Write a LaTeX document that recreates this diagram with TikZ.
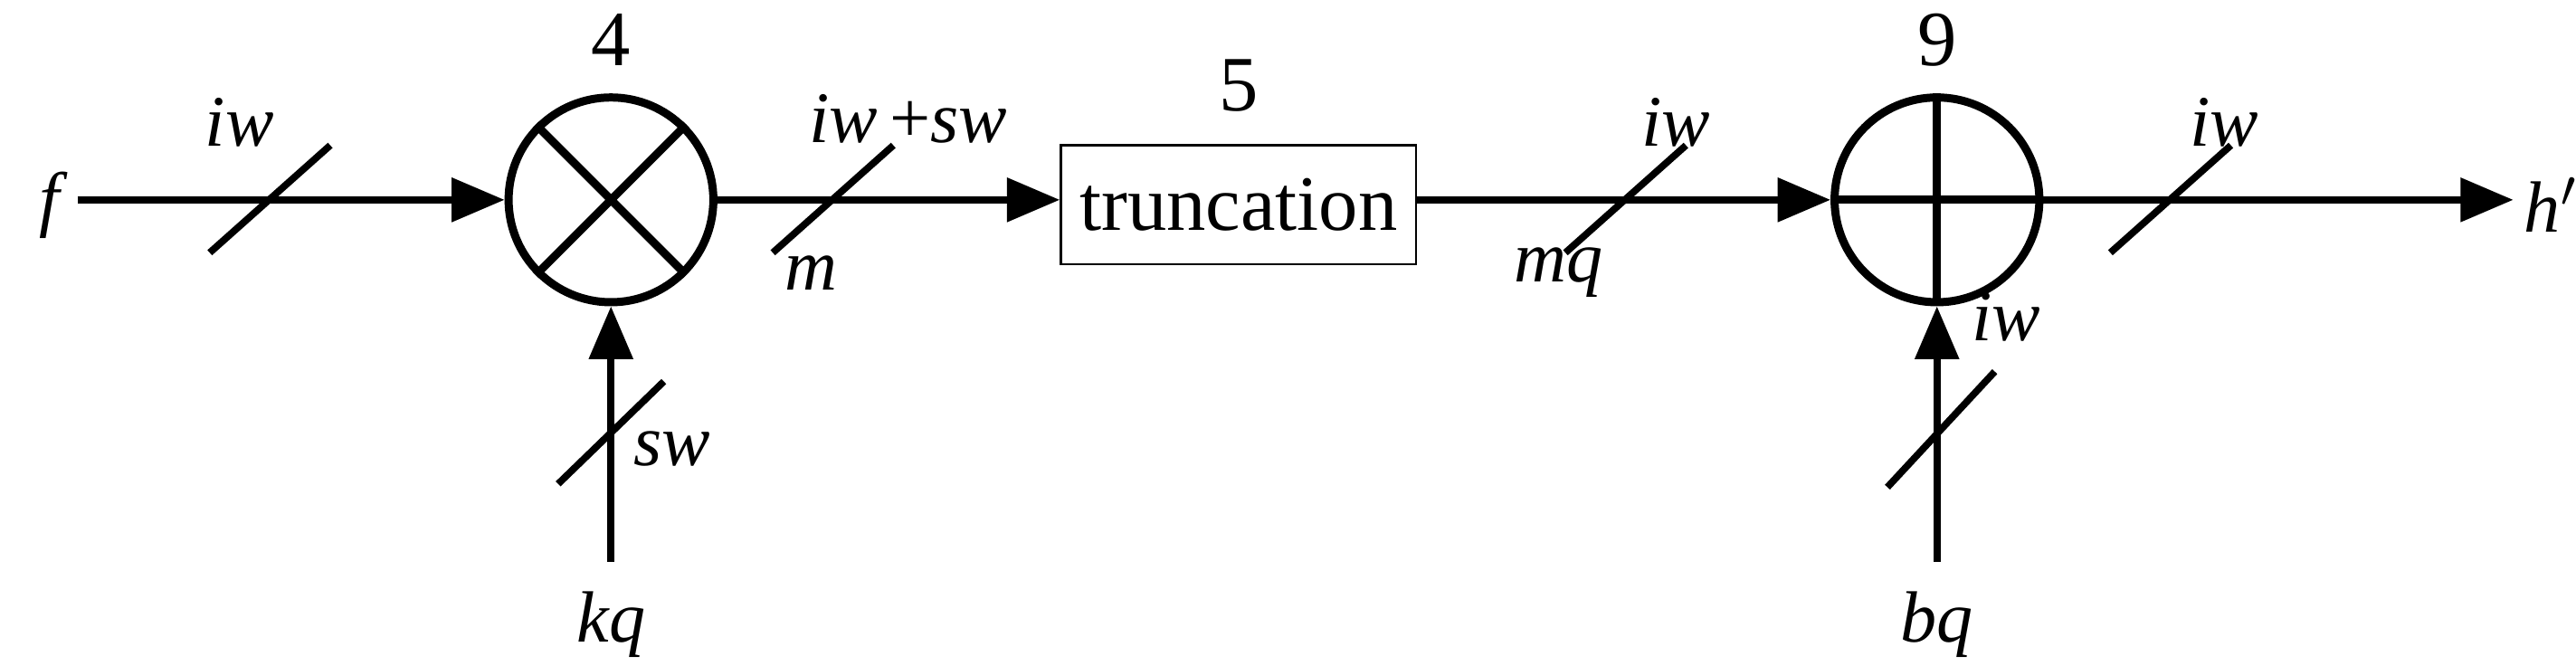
\documentclass[tikz,border=0pt]{standalone}
\usepackage{fontspec}
\setmainfont{Liberation Serif}
\usetikzlibrary{arrows.meta}
\begin{document}
\begin{tikzpicture}[x=0.1mm,y=-0.1mm,
  sig/.style={line width=1.2pt,-{Triangle[length=3.2mm,width=2.6mm]}},
  slash/.style={line width=1.2pt},
  lbl/.style={font=\fontsize{12.5}{15}\selectfont\itshape,inner sep=0pt},
  num/.style={font=\fontsize{13.5}{16}\selectfont,inner sep=0pt},
  op/.style={circle,draw,line width=1.4pt,minimum size=12.4mm,inner sep=0pt}]
\useasboundingbox (0,0) rectangle (1560,403);
\node[op] (mul) at (370,121) {};
\node[op] (add) at (1173,121) {};
\draw[line width=1.4pt] (mul.45)--(mul.225) (mul.135)--(mul.315);
\draw[line width=1.4pt] (add.north)--(add.south) (add.west)--(add.east);
\node[draw,minimum width=21.5mm,minimum height=7.2mm,inner xsep=1mm,font=\fontsize{13.5}{16}\selectfont] (tr) at (750,124) {truncation};
\node[lbl] (f) at (30,124) {f};
\coordinate (fs) at (47,121);
\node[lbl] (hp) at (1545,124) {h$'$};
\coordinate (he) at (1522,121);
\node[lbl] (kq) at (370,378) {kq};
\coordinate (kqs) at (370,340);
\node[lbl] (bq) at (1173,378) {bq};
\coordinate (bqs) at (1173,340);
\node[num] (n4) at (370,24) {4};
\node[num] (n5) at (750,52) {5};
\node[num] (n9) at (1173,24) {9};
\draw[sig] (fs)--(mul.west);
\draw[sig] (mul.east)--(tr.west|-mul.east);
\draw[sig] (tr.east|-add.west)--(add.west);
\draw[sig] (add.east)--(he);
\draw[sig] (kqs)--(mul.south);
\draw[sig] (bqs)--(add.south);
\draw[slash] (127,153)--(200,88);
\draw[slash] (468,153)--(541,88);
\draw[slash] (948,153)--(1021,88);
\draw[slash] (1278,153)--(1351,88);
\draw[slash] (338,293)--(402,231);
\draw[slash] (1143,295)--(1208,225);
\node[lbl] at (145,74) {iw};
\node[lbl] at (550,72) {iw\,\upshape+\itshape sw};
\node[lbl] at (491,165) {m};
\node[lbl] at (1015,74) {iw};
\node[lbl] at (944,165) {mq};
\node[lbl] at (1347,74) {iw};
\node[lbl] at (407,272) {sw};
\node[lbl] at (1215,192) {iw};
\end{tikzpicture}
\end{document}
